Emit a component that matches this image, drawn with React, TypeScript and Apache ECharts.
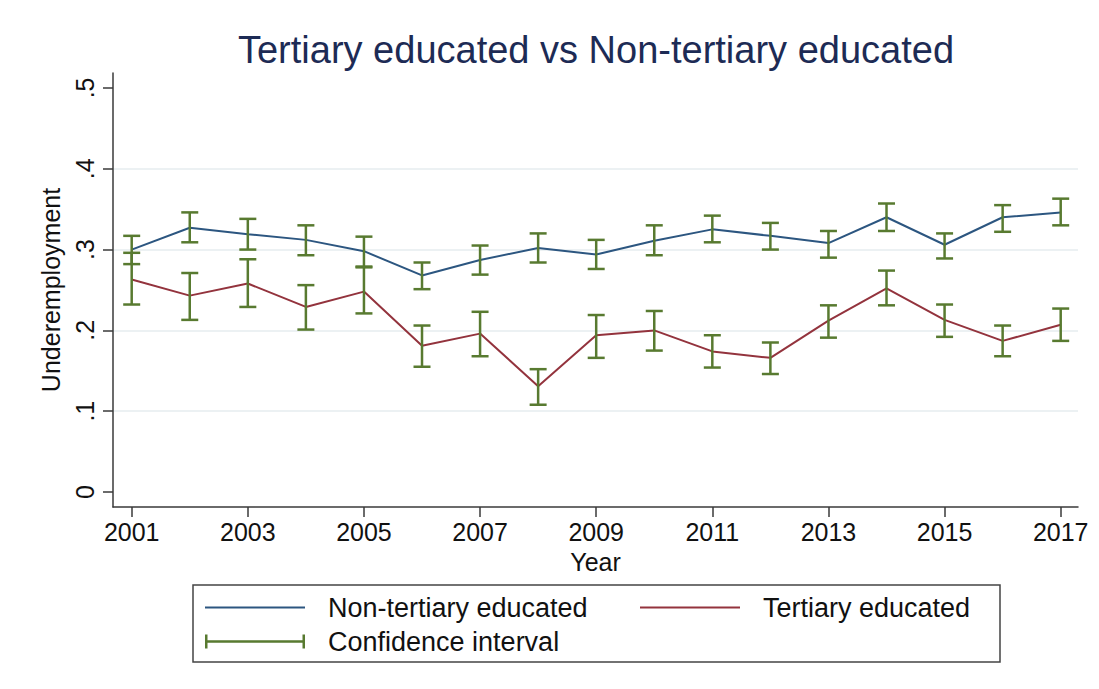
import React, { useEffect, useRef } from "react";
import * as echarts from "echarts";

// Survey years and estimated underemployment shares
const years = [2001, 2002, 2003, 2004, 2005, 2006, 2007, 2008, 2009, 2010, 2011, 2012, 2013, 2014, 2015, 2016, 2017];

const nonTertiary = [0.300, 0.327, 0.319, 0.312, 0.298, 0.268, 0.287, 0.302, 0.294, 0.311, 0.325, 0.317, 0.308, 0.340, 0.306, 0.340, 0.346];
const nonTertiaryLo = [0.282, 0.309, 0.300, 0.293, 0.279, 0.251, 0.269, 0.284, 0.276, 0.293, 0.309, 0.300, 0.290, 0.323, 0.289, 0.322, 0.330];
const nonTertiaryHi = [0.317, 0.346, 0.338, 0.330, 0.316, 0.284, 0.305, 0.320, 0.312, 0.330, 0.342, 0.333, 0.323, 0.357, 0.320, 0.355, 0.363];

const tertiary = [0.263, 0.243, 0.258, 0.229, 0.248, 0.181, 0.196, 0.131, 0.194, 0.200, 0.174, 0.166, 0.212, 0.252, 0.213, 0.187, 0.207];
const tertiaryLo = [0.232, 0.213, 0.229, 0.201, 0.221, 0.155, 0.168, 0.108, 0.166, 0.175, 0.154, 0.146, 0.191, 0.231, 0.192, 0.168, 0.187];
const tertiaryHi = [0.296, 0.271, 0.288, 0.256, 0.278, 0.206, 0.223, 0.152, 0.219, 0.224, 0.194, 0.185, 0.231, 0.274, 0.232, 0.206, 0.227];

// Axis ticks and their labels
const xTickValues = [2001, 2003, 2005, 2007, 2009, 2011, 2013, 2015, 2017];
const yTickValues = [0, 0.1, 0.2, 0.3, 0.4, 0.5];
const yTickLabels = ["0", ".1", ".2", ".3", ".4", ".5"];
const gridValues = [0.1, 0.2, 0.3, 0.4];

const TITLE = "Tertiary educated vs Non-tertiary educated";
const NAME_NON = "Non-tertiary educated";
const NAME_TER = "Tertiary educated";
const NAME_CI = "Confidence interval";

const FONT = "'Liberation Sans', Arial, Helvetica, sans-serif";
const BLUE = "#2c5680";
const RED = "#93333d";
const GREEN = "#587a30";
const AXIS = "#3a3a3a";

export default function App() {
  const ref = useRef<HTMLDivElement>(null);

  useEffect(() => {
    if (!ref.current) return;
    const chart = echarts.init(ref.current, undefined, { renderer: "svg" });

    const ciData = [
      ...years.map((y, i) => [y, nonTertiaryLo[i], nonTertiaryHi[i]]),
      ...years.map((y, i) => [y, tertiaryLo[i], tertiaryHi[i]]),
    ];

    const legendText = { fontFamily: FONT, fontSize: 27, color: "#111", padding: [0, 0, 0, 18] };
    const lineLegend = {
      padding: 0,
      itemWidth: 100,
      itemHeight: 2,
      icon: "rect",
      textStyle: legendText,
      selectedMode: false,
    };

    chart.setOption({
      animation: false,
      backgroundColor: "#ffffff",
      grid: { left: 113, right: 21, top: 73, bottom: 182 },
      xAxis: {
        type: "value",
        min: 2000.678,
        max: 2017.298,
        name: "Year",
        nameLocation: "middle",
        nameGap: 45,
        nameMoveOverlap: false,
        nameTextStyle: { fontFamily: FONT, fontSize: 25, lineHeight: 20, color: "#111" },
        axisLine: { show: true, onZero: false, lineStyle: { color: AXIS, width: 1.5 } },
        axisTick: { show: true, length: 10, lineStyle: { color: AXIS, width: 1.5 }, customValues: xTickValues },
        axisLabel: {
          customValues: xTickValues,
          margin: 15,
          fontFamily: FONT,
          fontSize: 25,
          lineHeight: 20,
          color: "#111",
          formatter: (v: number) => String(v),
        },
        splitLine: { show: false },
      },
      yAxis: {
        type: "value",
        min: -0.01856,
        max: 0.5185,
        name: "Underemployment",
        nameLocation: "middle",
        nameRotate: 90,
        nameGap: 50,
        nameTextStyle: { fontFamily: FONT, fontSize: 25, color: "#111" },
        axisLine: { show: true, onZero: false, lineStyle: { color: AXIS, width: 1.5 } },
        axisTick: { show: true, length: 10, lineStyle: { color: AXIS, width: 1.5 }, customValues: yTickValues },
        axisLabel: {
          customValues: yTickValues,
          rotate: 90,
          margin: 16,
          fontFamily: FONT,
          fontSize: 25,
          color: "#111",
          formatter: (v: number) => {
            const idx = yTickValues.findIndex((t) => Math.abs(t - v) < 1e-9);
            return idx >= 0 ? yTickLabels[idx] : "";
          },
        },
        splitLine: { show: false },
      },
      legend: [
        { ...lineLegend, data: [NAME_NON], left: 205, top: 594 },
        { ...lineLegend, data: [NAME_TER], left: 640, top: 594 },
        {
          data: [
            {
              name: NAME_CI,
              icon: "path://M0,0h2.5v14h-2.5z M0,5.75h100v2.5h-100z M97.5,0h2.5v14h-2.5z",
            },
          ],
          left: 205,
          top: 628,
          padding: 0,
          itemWidth: 100,
          itemHeight: 14,
          textStyle: legendText,
          selectedMode: false,
        },
      ],
      graphic: [
        {
          type: "text",
          x: 596,
          y: 50,
          style: {
            text: TITLE,
            fontFamily: FONT,
            fontSize: 38,
            fill: "#1d2b55",
            textAlign: "center",
            textVerticalAlign: "middle",
          },
        },
        {
          type: "rect",
          shape: { x: 193, y: 585, width: 807, height: 77 },
          style: { fill: "none", stroke: "#444", lineWidth: 1.5 },
        },
      ],
      series: [
        {
          name: NAME_NON,
          type: "line",
          data: years.map((y, i) => [y, nonTertiary[i]]),
          symbol: "none",
          lineStyle: { color: BLUE, width: 2 },
          itemStyle: { color: BLUE },
          markLine: {
            silent: true,
            symbol: "none",
            label: { show: false },
            lineStyle: { color: "#e6edef", width: 1.5, type: "solid" },
            data: gridValues.map((v) => ({ yAxis: v })),
            z: 0,
          },
          z: 2,
        },
        {
          name: NAME_TER,
          type: "line",
          data: years.map((y, i) => [y, tertiary[i]]),
          symbol: "none",
          lineStyle: { color: RED, width: 2 },
          itemStyle: { color: RED },
          z: 2,
        },
        {
          name: NAME_CI,
          type: "custom",
          data: ciData,
          encode: { x: 0, y: [1, 2] },
          itemStyle: { color: GREEN },
          z: 3,
          renderItem: (_params: any, api: any) => {
            const x = api.value(0);
            const top = api.coord([x, api.value(2)]);
            const bot = api.coord([x, api.value(1)]);
            const hw = 8.5;
            const style = { stroke: GREEN, lineWidth: 2.5, fill: "none" };
            return {
              type: "group",
              children: [
                { type: "line", shape: { x1: top[0], y1: top[1], x2: bot[0], y2: bot[1] }, style },
                { type: "line", shape: { x1: top[0] - hw, y1: top[1], x2: top[0] + hw, y2: top[1] }, style },
                { type: "line", shape: { x1: bot[0] - hw, y1: bot[1], x2: bot[0] + hw, y2: bot[1] }, style },
              ],
            };
          },
        },
      ],
    });

    return () => chart.dispose();
  }, []);

  return (
    <div
      ref={ref}
      style={{ position: "fixed", left: 0, top: 0, width: 1099, height: 689, background: "#fff" }}
    />
  );
}
